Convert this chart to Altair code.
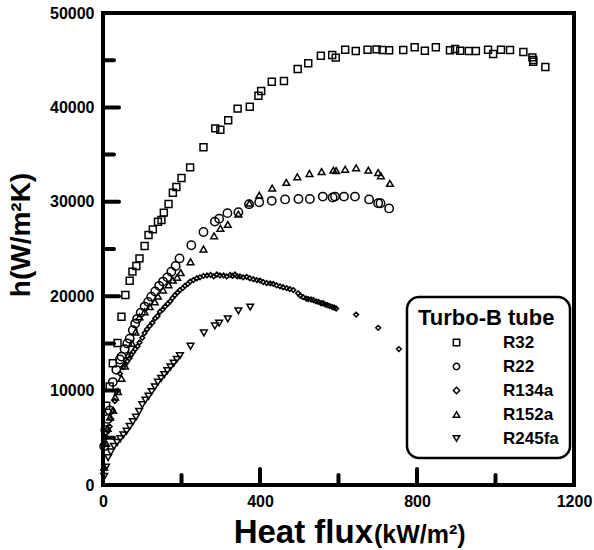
import altair as alt
import pandas as pd

# ---------------- data ----------------
series_names = ["R32", "R22", "R134a", "R152a", "R245fa"]
series_shapes = ["square", "circle", "diamond", "triangle-up", "triangle-down"]
series_sizes = [48, 70, 22, 45, 45]

r32_x = [8, 17, 25, 37, 47, 57, 68, 75, 85, 93, 106, 116, 127, 140, 149, 155, 167, 178, 187, 200,
         222, 256, 286, 299, 319, 343, 374, 396, 403, 430, 461, 496, 523, 555, 584, 593, 617, 644,
         674, 697, 712, 729, 765, 794, 820, 848, 884, 897, 910, 932, 950, 981, 994, 1014, 1037,
         1071, 1094, 1096, 1096, 1127]
r32_y = [8400, 10450, 12900, 15040, 17830, 20120, 21640, 22600, 23200, 24010, 25320, 26480, 27080,
         27890, 28070, 28850, 29770, 30960, 31570, 32520, 33650, 35770, 37780, 37640, 38630, 39870,
         40070, 41240, 41740, 42720, 42800, 44070, 44670, 45480, 45550, 45270, 46110, 45970, 46110,
         46150, 46080, 46050, 46080, 46370, 46010, 46370, 46050, 46190, 46010, 45970, 45970, 46110,
         45660, 46110, 46080, 45870, 45300, 45020, 44840, 44280]

r22_x = [3, 6, 12, 17, 25, 34, 43, 47, 55, 62, 68, 76, 82, 87, 96, 106, 115, 123, 133, 143, 153,
         164, 174, 185, 195, 225, 256, 285, 296, 317, 345, 372, 398, 430, 464, 498, 527, 560, 585,
         591, 614, 642, 678, 701, 707, 729]
r22_y = [4100, 5800, 7000, 7900, 10900, 12200, 13300, 13600, 14400, 15000, 15500, 16400, 17100,
         17600, 18250, 18900, 19400, 19950, 20500, 21100, 21550, 22000, 22600, 23200, 24000, 25400,
         26800, 27900, 28200, 28800, 28900, 29750, 29950, 30100, 30250, 30300, 30300, 30550, 30450,
         30550, 30550, 30550, 30250, 29850, 29850, 29300]

r134a_x = [3, 8, 13, 17, 21, 25, 30, 34, 43, 51, 57, 62, 67, 72, 77, 82, 88, 93, 100, 106, 112,
           119, 126, 133, 139, 145, 152, 158, 165, 171, 177, 183, 190, 196, 203, 209, 216, 222, 230,
           239, 247, 256, 265, 274, 282, 290, 298, 307, 315, 324, 330, 336, 342, 349, 357, 366, 374,
           383, 392, 400, 408, 417, 426, 434, 442, 451, 459, 468, 476, 485, 497, 503, 510, 518, 523,
           530, 536, 543, 549, 556, 561, 567, 572, 578, 584, 589, 594, 645, 701, 754]
r134a_y = [4200, 5100, 5700, 6200, 7000, 7900, 8900, 9900, 11800, 12500, 12800, 13100, 13400, 13800,
           14100, 14400, 14700, 15100, 15600, 16100, 16500, 16850, 17200, 17650, 17900, 18350, 18600,
           18900, 19200, 19450, 19800, 20100, 20400, 20650, 20850, 21100, 21300, 21550, 21700, 21900,
           22000, 22150, 22200, 22250, 22100, 22300, 22200, 22200, 22100, 22250, 22150, 22300, 22100,
           22100, 22000, 22050, 21900, 21800, 21700, 21650, 21500, 21400, 21350, 21300, 21150, 21050,
           20950, 20850, 20750, 20650, 20300, 20050, 19900, 19750, 19700, 19650, 19600, 19450, 19400,
           19250, 19250, 19100, 19050, 18950, 18850, 18800, 18700, 18050, 16650, 14400]

r152a_x = [3, 8, 12, 18, 26, 31, 38, 47, 56, 65, 74, 83, 93, 106, 119, 132, 140, 153, 167, 178, 189,
           198, 223, 256, 283, 299, 318, 345, 373, 398, 431, 467, 495, 526, 557, 587, 594, 617, 645,
           676, 701, 708, 731]
r152a_y = [1900, 4400, 6000, 7200, 7900, 9300, 9900, 11300, 12600, 13800, 15000, 16200, 17800, 18350,
           18900, 19400, 20000, 20650, 21200, 21700, 22000, 22500, 23650, 25000, 26400, 27200, 27600,
           28700, 29850, 30700, 31450, 32050, 32650, 33000, 33200, 33350, 33300, 33450, 33600, 33350,
           33100, 32750, 31950]

r245fa_x = [3, 8, 13, 20, 28, 36, 44, 52, 60, 68, 76, 84, 92, 100, 108, 116, 124, 132, 140, 148,
            156, 164, 172, 180, 188, 196, 223, 257, 285, 296, 318, 345, 375]
r245fa_y = [900, 1900, 2900, 3500, 4100, 4500, 4900, 5300, 5700, 6200, 6700, 7200, 7800, 8500, 9000,
            9400, 9900, 10400, 10900, 11300, 11700, 12100, 12500, 12900, 13300, 13700, 14700, 16100,
            16850, 17150, 17600, 18450, 18850]

x_label_values = [0, 400, 800, 1200]
y_label_values = [0, 10000, 20000, 30000, 40000, 50000]
x_major_ticks = [400, 800]
x_minor_ticks = [200, 600, 1000]
y_major_ticks = [10000, 20000, 30000, 40000]
y_minor_ticks = [5000, 15000, 25000, 35000, 45000]

x_title_main = "Heat flux"
x_title_unit = "(kW/m²)"
y_title = "h(W/m²K)"
legend_title = "Turbo-B tube"

# ---------------- build table ----------------
all_x = [r32_x, r22_x, r134a_x, r152a_x, r245fa_x]
all_y = [r32_y, r22_y, r134a_y, r152a_y, r245fa_y]
rows = []
for name, sz, xs, ys in zip(series_names, series_sizes, all_x, all_y):
    for a, b in zip(xs, ys):
        rows.append({"x": a, "y": b, "series": name, "sz": sz})
df = pd.DataFrame(rows)

W, H = 471, 472
FONT = "Liberation Sans"

xscale = alt.Scale(domain=[0, 1200], nice=False, zero=False)
yscale = alt.Scale(domain=[0, 50000], nice=False, zero=False)
xaxis = alt.Axis(values=x_label_values, format="d", title=None, grid=False, domain=False,
                 ticks=False, labelFont=FONT, labelFontSize=16, labelFontWeight="bold",
                 labelColor="black", labelPadding=8, labelFlush=False, labelOverlap=False,
                 labelBound=False)
yaxis = alt.Axis(values=y_label_values, format="d", title=None, grid=False, domain=False,
                 ticks=False, labelFont=FONT, labelFontSize=16, labelFontWeight="bold",
                 labelColor="black", labelPadding=9, labelFlush=False, labelOverlap=False,
                 labelBound=False)

points = alt.Chart(df).mark_point(filled=False, color="black", strokeWidth=1.5, opacity=1).encode(
    x=alt.X("x:Q", scale=xscale, axis=xaxis),
    y=alt.Y("y:Q", scale=yscale, axis=yaxis),
    shape=alt.Shape("series:N", scale=alt.Scale(domain=series_names, range=series_shapes),
                    legend=alt.Legend(title=legend_title, orient="none", legendX=304, legendY=284)),
    size=alt.Size("sz:Q", scale=None, legend=None),
)

frame = alt.Chart(pd.DataFrame({"f": [0]})).mark_rect(
    fill=None, fillOpacity=0, stroke="black", strokeWidth=4).encode(
    x=alt.value(0), x2=alt.value(W), y=alt.value(0), y2=alt.value(H))

def xticks(vals, length):
    return alt.Chart(pd.DataFrame({"x": vals})).mark_rule(
        color="black", strokeWidth=4, strokeCap="round").encode(
        x=alt.X("x:Q", scale=xscale, axis=xaxis),
        y=alt.value(H), y2=alt.value(H - length))

def yticks(vals, length):
    return alt.Chart(pd.DataFrame({"y": vals})).mark_rule(
        color="black", strokeWidth=4, strokeCap="round").encode(
        y=alt.Y("y:Q", scale=yscale, axis=yaxis),
        x=alt.value(0), x2=alt.value(length))

def label(txt, x, y, size, align, angle=0, baseline="alphabetic"):
    return alt.Chart(pd.DataFrame({"t": [txt]})).mark_text(
        font=FONT, fontSize=size, fontWeight="bold", color="black", align=align,
        baseline=baseline, angle=angle).encode(
        text="t:N", x=alt.value(x), y=alt.value(y))

chart = alt.layer(
    frame,
    xticks(x_major_ticks, 16), xticks(x_minor_ticks, 10),
    yticks(y_major_ticks, 16), yticks(y_minor_ticks, 11),
    points,
    label(x_title_main, 270, 530, 33, "right"),
    label(x_title_unit, 271, 530, 25, "left"),
    label(y_title, -81, 222, 28, "center", angle=270, baseline="middle"),
).properties(
    width=W, height=H, autosize="none",
    padding={"left": 103, "top": 13, "right": 20, "bottom": 65},
).configure_view(
    stroke=None
).configure_legend(
    strokeColor="black", strokeWidth=2.5, cornerRadius=12, fillColor="white",
    padding=11, titleFont=FONT, titleFontSize=22, titleFontWeight="bold", titleColor="black",
    titlePadding=4, labelFont=FONT, labelFontSize=17, labelFontWeight="bold", labelColor="black",
    symbolSize=40, symbolStrokeWidth=1.5, symbolStrokeColor="black", symbolFillColor="transparent",
    symbolOffset=30, labelOffset=38, rowPadding=6
)

chart.save("out.html", embed_options={"renderer": "svg", "actions": False})
